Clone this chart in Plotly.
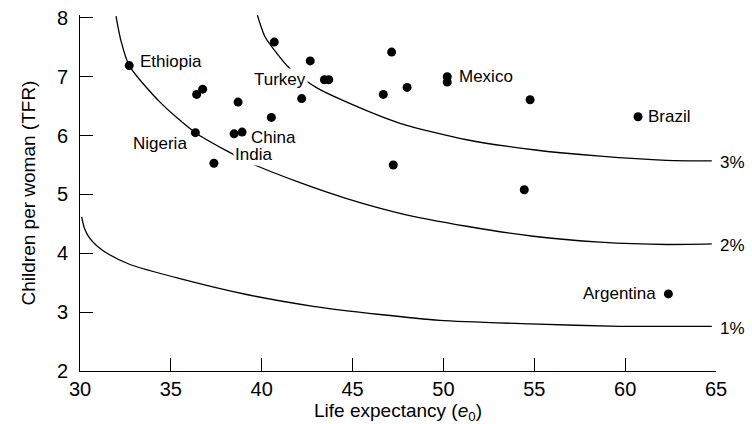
import plotly.graph_objects as go

# ---- data ----
life_exp = [32.71, 36.42, 36.75, 38.70, 40.69, 42.67, 43.45, 43.69, 42.20, 40.53,
            38.48, 38.92, 36.35, 37.37, 47.15, 46.69, 48.00, 47.24, 50.21, 50.21,
            54.77, 60.71, 54.45, 62.38]
tfr = [7.19, 6.70, 6.79, 6.57, 7.59, 7.27, 6.95, 6.95, 6.63, 6.31,
       6.03, 6.06, 6.05, 5.53, 7.42, 6.70, 6.82, 5.50, 7.00, 6.91,
       6.61, 6.32, 5.08, 3.31]
country = ["Ethiopia", "", "", "", "", "", "Turkey", "", "", "",
           "", "China", "Nigeria", "India", "", "", "", "", "Mexico", "",
           "", "Brazil", "", "Argentina"]

# growth-rate isolines
c3_x = [39.76, 40.18, 40.83, 41.52, 42.99, 44.31, 47.61, 51.28, 54.95, 58.62, 62.29, 64.77]
c3_y = [8.05, 7.68, 7.40, 7.15, 6.82, 6.62, 6.21, 5.93, 5.76, 5.65, 5.58, 5.57]
c2_x = [31.98, 32.24, 32.71, 34.40, 36.35, 38.26, 39.26, 42.11, 44.68, 47.61, 51.28, 54.95, 58.62, 62.29, 64.77]
c2_y = [8.03, 7.63, 7.19, 6.57, 6.05, 5.71, 5.55, 5.20, 4.93, 4.68, 4.46, 4.29, 4.19, 4.15, 4.16]
c1_x = [30.09, 30.25, 30.50, 30.92, 31.60, 32.75, 35.50, 39.17, 42.84, 46.51, 49.81, 54.77, 59.72, 64.77]
c1_y = [4.62, 4.42, 4.27, 4.13, 3.98, 3.81, 3.57, 3.30, 3.10, 2.96, 2.86, 2.80, 2.76, 2.76]
curve_labels = ["3%", "2%", "1%"]

x_ticks = [30, 35, 40, 45, 50, 55, 60, 65]
y_ticks = [2, 3, 4, 5, 6, 7, 8]

# label placement styles (anchor, xshift, yshift, white background)
label_style = {
    "Ethiopia": ("left", 9, 4, False),
    "Turkey": ("right", -16, 0, True),
    "Nigeria": ("right", -6, -11, False),
    "China": ("left", 7, -5, False),
    "India": ("left", 19, 9, True),
    "Mexico": ("left", 10, 0, False),
    "Brazil": ("left", 8, 0, False),
    "Argentina": ("right", -10, 0, False),
}

FONT = "Liberation Sans, Arial, Helvetica, sans-serif"

fig = go.Figure()
for cx, cy in [(c3_x, c3_y), (c2_x, c2_y), (c1_x, c1_y)]:
    fig.add_trace(go.Scatter(x=cx, y=cy, mode="lines",
                             line=dict(color="black", width=1.3, shape="spline", smoothing=0.7),
                             hoverinfo="skip", showlegend=False))

fig.add_trace(go.Scatter(x=life_exp, y=tfr, mode="markers",
                         marker=dict(color="black", size=9), showlegend=False))

for xv, yv, name in zip(life_exp, tfr, country):
    if not name:
        continue
    anchor, xs, ys, bg = label_style[name]
    fig.add_annotation(x=xv, y=yv, text=name, showarrow=False, xanchor=anchor, yanchor="middle",
                       xshift=xs, yshift=ys, font=dict(family=FONT, size=17, color="black"),
                       bgcolor="white" if bg else "rgba(0,0,0,0)", borderpad=1)

for (cx, cy), lab in zip([(c3_x, c3_y), (c2_x, c2_y), (c1_x, c1_y)], curve_labels):
    fig.add_annotation(x=cx[-1], y=cy[-1], text=lab, showarrow=False, xanchor="left", yanchor="middle",
                       xshift=6, yshift=-2, font=dict(family=FONT, size=17, color="black"))

axis_common = dict(showgrid=False, zeroline=False, showline=True, linecolor="black", linewidth=1,
                   ticks="inside", ticklen=13, tickwidth=1, tickcolor="black",
                   tickfont=dict(family=FONT, size=20, color="black"))

fig.update_xaxes(range=[30, 65], tickvals=x_ticks, ticktext=[str(t) for t in x_ticks],
                 title=dict(text="Life expectancy (<i>e</i><sub>0</sub>)",
                            font=dict(family=FONT, size=19, color="black"), standoff=4),
                 **axis_common)
fig.update_yaxes(range=[2, 8.05], tickvals=y_ticks, ticktext=[str(t) for t in y_ticks],
                 ticklabelstandoff=7,
                 title=dict(text="Children per woman (TFR)",
                            font=dict(family=FONT, size=19, color="black"), standoff=16),
                 **axis_common)

fig.update_layout(width=752, height=424, margin=dict(l=80, r=36, t=15, b=53, autoexpand=False),
                  paper_bgcolor="white", plot_bgcolor="white", showlegend=False)

fig.write_html("out.html")
